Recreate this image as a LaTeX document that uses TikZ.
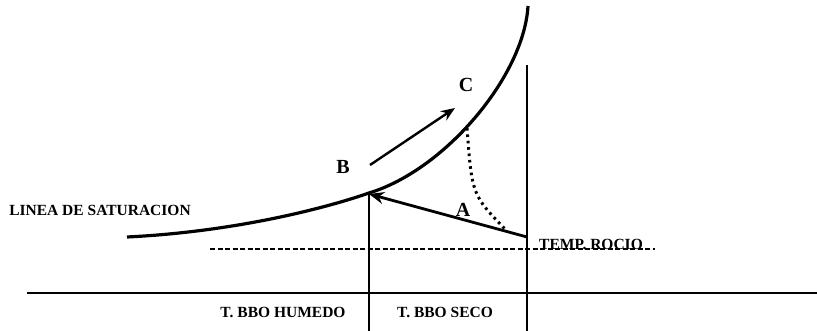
\documentclass[tikz,border=0pt]{standalone}
\usepackage{fontspec}
\setmainfont{Liberation Serif}
\usetikzlibrary{arrows.meta}

\tikzset{
  lbl/.style={font=\fontsize{15.5}{18}\selectfont\bfseries, inner sep=0pt},
  point/.style={font=\fontsize{20}{24}\selectfont\bfseries, inner sep=0pt},
  process/.style={line width=2.8pt, -{Stealth[length=15pt,width=12pt]}},
}

\begin{document}
\begin{tikzpicture}[x=1pt, y=-1pt]
  \useasboundingbox (0,0) rectangle (817,331);

  % Axes
  \draw[line width=2.1pt] (27,293) -- (817,293);
  \draw[line width=1.5pt, dash pattern=on 5pt off 2.5pt] (210,249) -- (655,249);

  % Wet bulb and dry bulb lines
  \coordinate (W) at (369,194);
  \coordinate (D) at (527,65);
  \draw[line width=1.4pt] (W) -- (369,331);
  \draw[line width=1.2pt] (D) -- (527,331);

  % Saturation curve
  \draw[line width=3.2pt] (127,237) .. controls (230,232) and (320,210) .. (369,193)
    .. controls (445,170) and (524,76) .. (528,6);

  % Process A (cooling towards the wet bulb)
  \coordinate (A0) at (527,237);
  \draw[process] (A0) -- (W);
  \node[point] (labA) at (463,210) {A};

  % Process B to C along the curve
  \coordinate (B1) at (370,165);
  \coordinate (C1) at (455,108);
  \draw[line width=2.4pt, -{Stealth[length=14pt,width=11pt]}] (B1) -- (C1);
  \node[point] (labB) at (343,167) {B};
  \node[point] (labC) at (466,85) {C};

  % Dew point path
  \coordinate (Cs) at (467,128);
  \coordinate (Ds) at (506,230);
  \draw[line width=3pt, dash pattern=on 2.6pt off 3.8pt] (Cs) .. controls (472,195) .. (Ds);

  % Labels
  \node[lbl] (sat) at (100,210) {LINEA DE SATURACION};
  \node[lbl] (wet) at (283,312) {T. BBO HUMEDO};
  \node[lbl] (dry) at (445,312) {T. BBO SECO};
  \node[lbl, anchor=west] (dew) at (539,244) {TEMP. ROCIO};
\end{tikzpicture}
\end{document}
